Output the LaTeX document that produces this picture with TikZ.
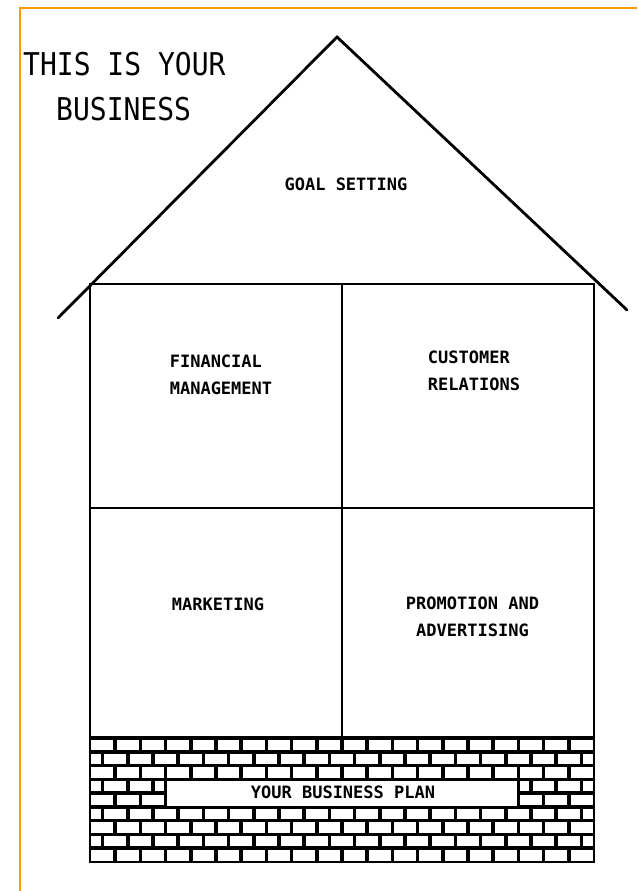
\documentclass[tikz,border=0pt]{standalone}
\usepackage{fontspec}
\usepackage{graphicx}
\newfontfamily\monofont{DejaVu Sans Mono}
\definecolor{framecolor}{RGB}{255,153,0}
\begin{document}
\begin{tikzpicture}[x=1pt,y=-1pt,
  wall/.style={line width=2.2pt, line join=miter},
  roofline/.style={line width=2.8pt, line cap=round, line join=miter},
  divider/.style={line width=1.4pt},
  brickline/.style={line width=3.6pt},
  lbl/.style={font=\monofont\bfseries\fontsize{17}{27}\selectfont, inner sep=0pt},
  ttl/.style={font=\monofont\fontsize{28}{30}\selectfont, inner sep=0pt, anchor=base west},
  frameline/.style={draw=framecolor, line width=2.4pt}]
\useasboundingbox (0,0) rectangle (637,891);
\fill[white] (0,0) rectangle (637,891);
\draw[frameline] (20,891) -- (20,8) -- (637,8);
% roof
\coordinate (apex) at (337,37);
\coordinate (roofL) at (58,318);
\coordinate (roofR) at (627,310);
\draw[roofline] (roofL) -- (apex) -- (roofR);
% bricks
\foreach \i in {0,...,8} {
  \pgfmathsetmacro\yt{738+\i*13.78}
  \pgfmathsetmacro\yb{738+(\i+1)*13.78}
  \pgfmathsetmacro\off{mod(\i,2)*12.6}
  \draw[brickline] (90,\yt) -- (594,\yt);
  \foreach \k in {0,...,20} {
    \pgfmathsetmacro\xx{90+\off+25.2*\k}
    \ifdim\xx pt>91pt \ifdim\xx pt<593pt
      \draw[brickline] (\xx,\yt) -- (\xx,\yb);
    \fi\fi
  }
}
\filldraw[fill=white, draw=black, line width=2.6pt] (165.6,779.34) rectangle (518.4,806.9);
% house body
\draw[wall] (90,284) rectangle (594,862);
\coordinate (midT) at (342,284);
\coordinate (midB) at (342,738);
\coordinate (midL) at (90,508);
\coordinate (midR) at (594,508);
\draw[divider] (midT) -- (midB);
\draw[divider] (midL) -- (midR);
% title
\node[ttl] (t1) at (23,75) {\scalebox{1}[1.12]{THIS IS YOUR}};
\node[ttl] (t2) at (56,120) {\scalebox{1}[1.12]{BUSINESS}};
% labels
\node[lbl] (goal) at (346,184) {GOAL SETTING};
\node[lbl, align=left] (fin) at (221,374.5) {FINANCIAL\\MANAGEMENT};
\node[lbl, align=left] (cust) at (474,370.5) {CUSTOMER\\RELATIONS};
\node[lbl] (mkt) at (218,604) {MARKETING};
\node[lbl, align=center] (promo) at (472.5,616.5) {PROMOTION AND\\ADVERTISING};
\node[lbl] (plan) at (343,792) {YOUR BUSINESS PLAN};
\end{tikzpicture}
\end{document}
